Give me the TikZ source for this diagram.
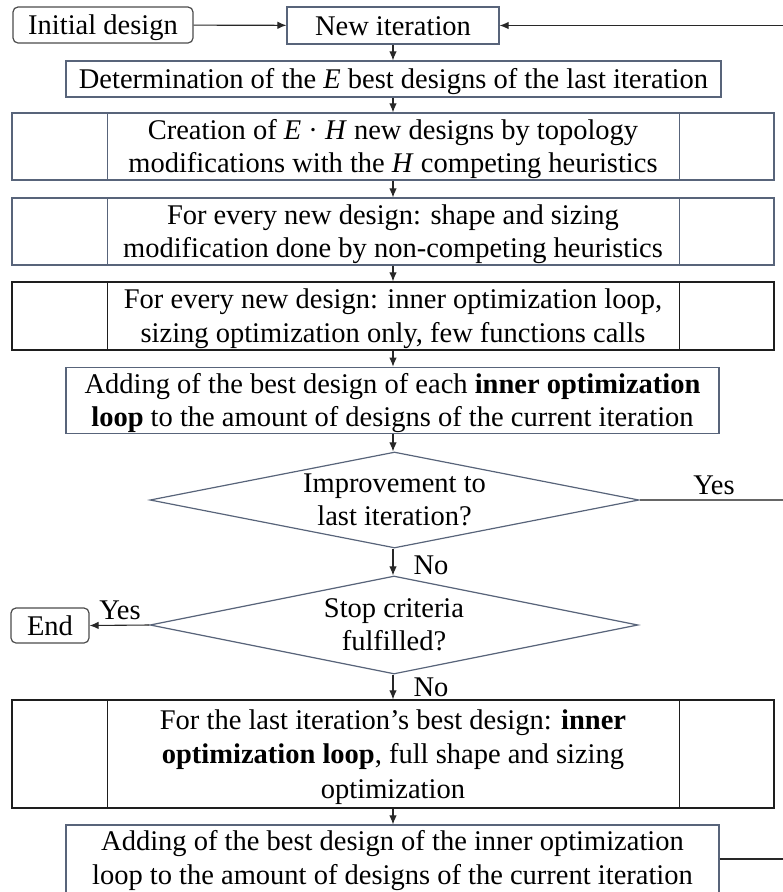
\documentclass[tikz,border=0pt]{standalone}
\usepackage{fontspec}
\setmainfont{Liberation Serif}
\usetikzlibrary{arrows.meta,shapes.geometric}
\definecolor{boxcol}{RGB}{88,100,122}
\definecolor{darkcol}{RGB}{30,30,30}
\definecolor{linecol}{RGB}{40,40,40}
\newcommand\bxs{\rule[-7pt]{0pt}{33pt}}
\newcommand\fns{\rule[-11pt]{0pt}{33pt}}
\begin{document}
\begin{tikzpicture}[x=1pt,y=-1pt,
  every node/.style={font=\fontsize{28.5}{33.5}\selectfont, inner sep=0pt, align=center},
  pbox/.style={draw=boxcol, line width=1.2pt, rectangle},
  dbox/.style={draw=darkcol, line width=1.3pt, rectangle},
  term/.style={draw=darkcol!80, line width=1.2pt, rectangle, rounded corners=5pt},
  decis/.style={draw=boxcol, line width=1.2pt, diamond, aspect=5.1},
  arr/.style={draw=linecol, line width=1.1pt, -{Latex[length=9pt,width=7.5pt]}},
  plain/.style={line width=1.3pt},
  lbl/.style={}
]
\useasboundingbox (0,0) rectangle (783,892);

% nodes
\node[term, minimum width=180pt, minimum height=36pt] (init) at (103,25) {\bxs Initial design\bxs};
\node[pbox, minimum width=212pt, minimum height=37pt] (new) at (393,25.5) {\bxs New iteration\bxs};
\node[pbox, minimum width=655pt, minimum height=36pt] (det) at (393.5,79) {\bxs Determination of the \textit{E} best designs of the last iteration\bxs};
\node[pbox, minimum width=762pt, minimum height=67pt] (cre) at (393,146.5) {\bxs Creation of \textit{E}~·~\textit{H} new designs by topology\\modifications with the \textit{H} competing heuristics\bxs};
\node[pbox, minimum width=762pt, minimum height=67pt] (shp) at (393,231.5) {\bxs For every new design: shape and sizing\\modification done by non-competing heuristics\bxs};
\node[dbox, minimum width=762pt, minimum height=68pt] (inn) at (393,316) {\bxs For every new design: inner optimization loop,\\sizing optimization only, few functions calls\bxs};
\node[pbox, minimum width=653pt, minimum height=66pt] (add) at (392.5,400.5) {\bxs Adding of the best design of each \textbf{inner optimization}\\\textbf{loop} to the amount of designs of the current iteration\bxs};
\node[decis, minimum width=489pt, minimum height=96pt] (d1) at (394.5,500) {Improvement to\\last iteration?};
\node[decis, minimum width=488pt, minimum height=98pt] (d2) at (394,625) {Stop criteria\\fulfilled?};
\node[term, minimum width=78pt, minimum height=35pt] (end) at (50,625.5) {\bxs End\bxs};
\node[dbox, minimum width=762pt, minimum height=108pt, font=\fontsize{28.5}{34.5}\selectfont] (last) at (393,754) {\bxs For the last iteration’s best design: \textbf{inner}\\\textbf{optimization loop}, full shape and sizing\\optimization\bxs};
\node[pbox, minimum width=653pt, minimum height=74pt] (fin) at (392.5,862) {\fns Adding of the best design of the inner optimization\\loop to the amount of designs of the current iteration\fns};

% inner column lines of the three-column boxes
\foreach \n/\s in {cre/boxcol, shp/boxcol, inn/darkcol, last/darkcol}{
  \draw[draw=\s, line width=1.2pt] ([xshift=96pt]\n.north west) -- ([xshift=96pt]\n.south west);
  \draw[draw=\s, line width=1.2pt] ([xshift=-95pt]\n.north east) -- ([xshift=-95pt]\n.south east);
}

% labels
\node[lbl] (y1) at (714,485) {Yes};
\node[lbl] (n1) at (431,565) {No};
\node[lbl] (y2) at (120,610) {Yes};
\node[lbl] (n2) at (431,687) {No};

% free ends at the right edge
\coordinate (rtop) at (783,25.5);
\coordinate (ryes) at (783,500);
\coordinate (rfin) at (783,859);

% connectors
\draw[arr] (init) -- (new);
\draw[arr] (rtop) -- (new.east);
\draw[arr] (new.south) -- (new.south |- det.north);
\draw[arr] (new.south |- det.south) -- (new.south |- cre.north);
\draw[arr] (new.south |- cre.south) -- (new.south |- shp.north);
\draw[arr] (new.south |- shp.south) -- (new.south |- inn.north);
\draw[arr] (new.south |- inn.south) -- (new.south |- add.north);
\draw[arr] (new.south |- add.south) -- (new.south |- d1.north);
\draw[draw=black!60, plain] (d1.east) -- (ryes);
\draw[arr] (new.south |- d1.south) -- (new.south |- d2.north);
\draw[arr] (d2.west) -- (end.east);
\draw[arr] (new.south |- d2.south) -- (new.south |- last.north);
\draw[arr] (new.south |- last.south) -- (new.south |- fin.north);
\draw[draw=linecol, plain] (fin.east |- rfin) -- (rfin);
\end{tikzpicture}
\end{document}
